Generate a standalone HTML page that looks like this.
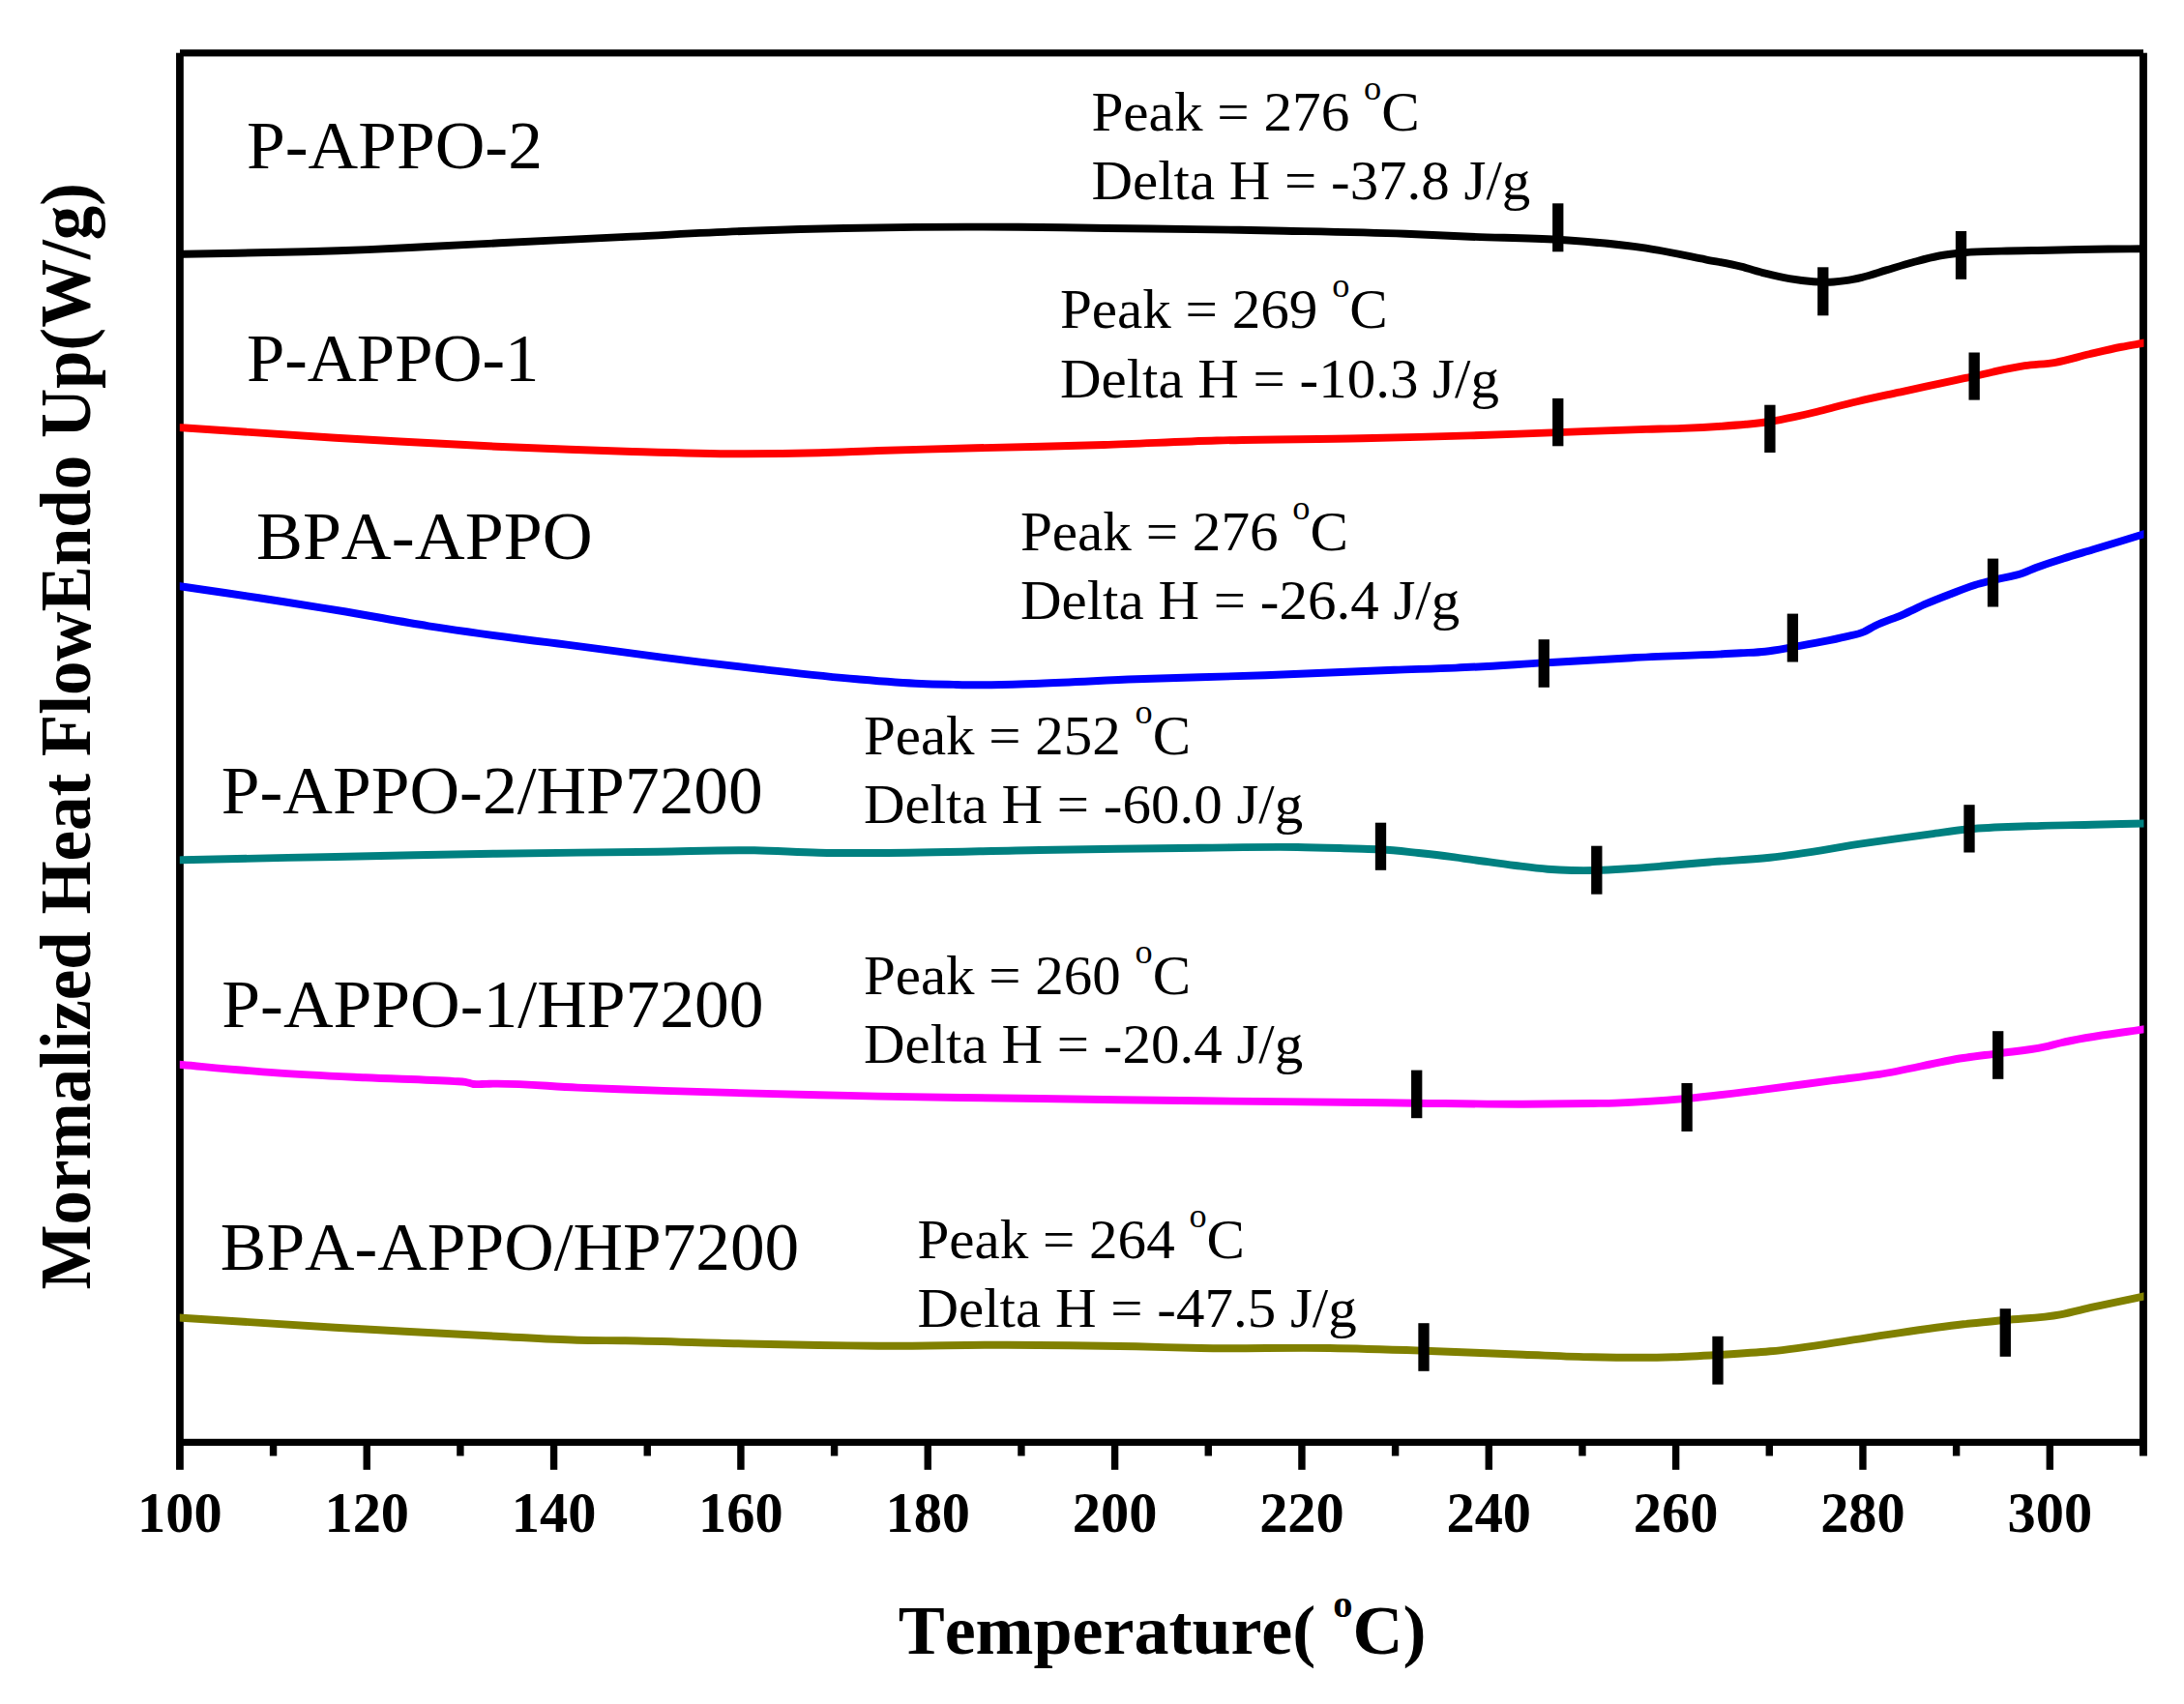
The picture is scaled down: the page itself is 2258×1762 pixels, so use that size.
<!DOCTYPE html>
<html lang="en">
<head>
<meta charset="utf-8">
<title>DSC curves</title>
<style>
html,body{margin:0;padding:0;background:#fff;}
body{width:2258px;height:1762px;overflow:hidden;}
svg{display:block;}
text{font-family:"Liberation Serif","Times New Roman",Times,serif;fill:#000;font-kerning:none;white-space:pre;}
.b{font-weight:bold;}
</style>
</head>
<body>
<svg width="2258" height="1762" viewBox="0 0 2258 1762">
<rect x="0" y="0" width="2258" height="1762" fill="#ffffff"/>

<g fill="#000">
<rect x="186" y="51.2" width="2030" height="7.2"/>
<rect x="182.05" y="54.7" width="7.75" height="1465.1"/>
<rect x="2212" y="54.7" width="7.9" height="1450.8"/>
<rect x="186" y="1487.8" width="2030" height="7.2"/>
<rect x="278.87" y="1491" width="7.4" height="14.5"/>
<rect x="375.54" y="1491" width="7.4" height="28.8"/>
<rect x="472.21" y="1491" width="7.4" height="14.5"/>
<rect x="568.88" y="1491" width="7.4" height="28.8"/>
<rect x="665.55" y="1491" width="7.4" height="14.5"/>
<rect x="762.22" y="1491" width="7.4" height="28.8"/>
<rect x="858.89" y="1491" width="7.4" height="14.5"/>
<rect x="955.56" y="1491" width="7.4" height="28.8"/>
<rect x="1052.23" y="1491" width="7.4" height="14.5"/>
<rect x="1148.90" y="1491" width="7.4" height="28.8"/>
<rect x="1245.57" y="1491" width="7.4" height="14.5"/>
<rect x="1342.24" y="1491" width="7.4" height="28.8"/>
<rect x="1438.91" y="1491" width="7.4" height="14.5"/>
<rect x="1535.58" y="1491" width="7.4" height="28.8"/>
<rect x="1632.25" y="1491" width="7.4" height="14.5"/>
<rect x="1728.92" y="1491" width="7.4" height="28.8"/>
<rect x="1825.59" y="1491" width="7.4" height="14.5"/>
<rect x="1922.26" y="1491" width="7.4" height="28.8"/>
<rect x="2018.93" y="1491" width="7.4" height="14.5"/>
<rect x="2115.60" y="1491" width="7.4" height="28.8"/>
</g>
<clipPath id="cp"><rect x="185.8" y="58" width="2030.7" height="1430"/></clipPath>
<g fill="none" stroke-width="7.9" stroke-linejoin="round" stroke-linecap="butt" clip-path="url(#cp)">
<path stroke="#000000" d="M178.0,263.10C182.0,263.00 186.0,262.90 190.0,262.80C232.0,261.77 274.0,261.41 316.0,260.20C337.3,259.59 358.7,258.98 380.0,258.10C401.0,257.24 422.0,256.05 443.0,255.00C467.3,253.79 491.7,252.52 516.0,251.30C561.7,249.01 607.3,246.81 653.0,244.60C693.9,242.62 734.8,240.20 775.7,238.70C808.1,237.51 840.4,236.66 872.8,236.00C897.2,235.50 921.6,235.14 946.0,234.90C981.7,234.55 1017.3,234.46 1053.0,234.70C1083.5,234.91 1114.1,235.60 1144.6,236.00C1175.1,236.40 1205.5,236.65 1236.0,237.10C1266.6,237.55 1297.1,238.07 1327.7,238.70C1369.5,239.56 1411.2,240.24 1453.0,241.80C1475.3,242.63 1497.7,243.87 1520.0,244.75C1550.3,245.95 1580.5,245.82 1610.8,247.80C1641.2,249.79 1671.6,252.07 1702.0,256.70C1722.4,259.81 1742.9,264.27 1763.3,268.30C1775.5,270.71 1787.8,272.66 1800.0,275.70C1808.3,277.77 1816.7,280.62 1825.0,282.70C1833.3,284.78 1841.7,286.77 1850.0,288.20C1858.3,289.62 1866.7,290.69 1875.0,291.25C1878.3,291.47 1881.7,291.65 1885.0,291.70C1888.7,291.75 1892.3,291.72 1896.0,291.50C1900.0,291.25 1904.0,290.79 1908.0,290.20C1913.7,289.37 1919.3,288.15 1925.0,286.80C1933.3,284.81 1941.7,281.86 1950.0,279.40C1959.2,276.67 1968.5,273.75 1977.7,271.25C1986.8,268.79 1995.9,266.18 2005.0,264.50C2012.5,263.11 2020.0,262.27 2027.5,261.50C2041.4,260.07 2055.4,260.05 2069.3,259.60C2085.5,259.07 2101.8,259.05 2118.0,258.75C2138.7,258.36 2159.3,257.73 2180.0,257.50C2194.7,257.34 2209.3,257.37 2224.0,257.30"/>
<path stroke="#ff0000" d="M178.0,441.60C181.3,441.83 184.7,442.07 188.0,442.30C240.9,445.99 293.8,449.53 346.7,452.70C402.2,456.03 457.8,459.21 513.3,461.70C557.8,463.69 602.2,465.39 646.7,466.70C685.6,467.84 724.4,469.21 763.3,469.30C791.1,469.36 818.9,469.04 846.7,468.30C867.1,467.75 887.6,466.68 908.0,466.00C941.3,464.88 974.7,464.17 1008.0,463.30C1052.4,462.14 1096.9,461.43 1141.3,460.00C1180.2,458.75 1219.1,456.59 1258.0,455.50C1308.0,454.09 1358.0,454.35 1408.0,453.30C1445.3,452.51 1482.7,451.58 1520.0,450.40C1550.3,449.44 1580.5,448.18 1610.8,447.10C1641.2,446.01 1671.6,444.79 1702.0,443.90C1714.3,443.54 1726.7,443.38 1739.0,442.90C1752.9,442.36 1766.8,441.66 1780.7,440.70C1788.8,440.14 1796.9,439.57 1805.0,438.80C1813.3,438.01 1821.5,437.25 1829.8,436.00C1838.2,434.73 1846.6,432.98 1855.0,431.20C1862.2,429.68 1869.3,428.01 1876.5,426.25C1883.2,424.60 1890.0,422.71 1896.7,421.00C1904.8,418.94 1912.9,416.92 1921.0,415.00C1935.1,411.66 1949.2,408.78 1963.3,405.70C1972.2,403.76 1981.1,401.82 1990.0,399.90C2000.6,397.62 2011.1,395.34 2021.7,393.10C2028.2,391.72 2034.7,390.42 2041.2,389.00C2047.5,387.63 2053.7,386.10 2060.0,384.75C2071.1,382.36 2082.2,379.87 2093.3,378.20C2103.9,376.61 2114.4,376.62 2125.0,374.80C2136.7,372.79 2148.3,368.99 2160.0,366.25C2171.1,363.65 2182.2,360.94 2193.3,358.75C2200.8,357.27 2208.3,356.08 2215.8,354.75C2218.5,354.27 2221.3,353.78 2224.0,353.30"/>
<path stroke="#0000ff" d="M178.0,605.00C181.3,605.50 184.7,606.00 188.0,606.50C202.8,608.71 217.7,610.80 232.5,613.00C253.3,616.09 274.2,619.25 295.0,622.50C315.8,625.75 336.7,629.05 357.5,632.50C386.0,637.22 414.5,642.85 443.0,647.30C448.7,648.19 454.3,649.05 460.0,649.90C496.0,655.31 532.0,659.94 568.0,664.40C574.0,665.14 580.0,665.86 586.0,666.60C619.3,670.73 652.7,675.70 686.0,679.90C719.3,684.10 752.7,688.07 786.0,691.80C819.3,695.53 852.7,699.48 886.0,702.30C908.1,704.17 930.2,706.08 952.3,707.00C963.5,707.47 974.8,707.66 986.0,707.90C993.3,708.06 1000.7,708.24 1008.0,708.30C1030.2,708.47 1052.5,707.41 1074.7,706.70C1108.0,705.63 1141.4,703.57 1174.7,702.30C1219.1,700.61 1263.6,699.90 1308.0,698.30C1352.4,696.70 1396.9,694.29 1441.3,692.70C1462.5,691.94 1483.8,691.51 1505.0,690.60C1535.4,689.30 1565.8,687.14 1596.2,685.40C1626.5,683.67 1656.8,681.75 1687.0,680.20C1724.7,678.28 1762.3,677.57 1800.0,675.30C1808.3,674.80 1816.7,674.60 1825.0,673.70C1834.4,672.68 1843.9,670.81 1853.3,669.20C1863.3,667.49 1873.3,665.71 1883.3,663.70C1891.6,662.02 1900.0,660.32 1908.3,658.30C1914.4,656.82 1920.6,656.16 1926.7,653.50C1930.6,651.82 1934.4,649.14 1938.3,647.20C1947.8,642.45 1957.2,639.92 1966.7,635.80C1975.0,632.18 1983.4,627.80 1991.7,624.20C2000.0,620.60 2008.4,617.40 2016.7,614.20C2025.0,611.00 2033.4,607.59 2041.7,605.00C2047.9,603.07 2054.1,601.60 2060.3,600.00C2070.8,597.30 2081.2,596.28 2091.7,592.50C2096.1,590.90 2100.6,588.72 2105.0,587.00C2114.4,583.33 2123.9,580.50 2133.3,577.50C2143.5,574.24 2153.8,571.38 2164.0,568.30C2180.4,563.35 2196.9,558.36 2213.3,553.30C2216.9,552.20 2220.4,551.10 2224.0,550.00"/>
<path stroke="#008080" d="M178.0,889.60C181.3,889.50 184.7,889.40 188.0,889.30C240.9,887.74 293.8,887.07 346.7,886.00C402.2,884.87 457.8,883.58 513.3,882.70C568.9,881.82 624.4,881.44 680.0,880.70C713.3,880.26 746.7,878.77 780.0,879.30C802.2,879.66 824.5,881.26 846.7,881.70C867.1,882.10 887.6,882.03 908.0,882.00C963.6,881.93 1019.1,879.88 1074.7,879.00C1130.2,878.12 1185.8,877.23 1241.3,876.70C1274.6,876.38 1308.0,875.55 1341.3,876.00C1360.9,876.26 1380.4,876.95 1400.0,877.50C1409.2,877.76 1418.3,877.79 1427.5,878.30C1440.6,879.03 1453.6,880.63 1466.7,882.00C1477.8,883.17 1488.9,884.38 1500.0,885.80C1511.1,887.22 1522.2,888.97 1533.3,890.50C1544.4,892.04 1555.6,893.63 1566.7,895.00C1577.8,896.36 1588.9,897.84 1600.0,898.70C1608.3,899.34 1616.7,899.78 1625.0,900.00C1633.6,900.23 1642.2,900.20 1650.8,900.00C1661.6,899.75 1672.5,898.99 1683.3,898.30C1694.4,897.59 1705.6,896.69 1716.7,895.80C1732.5,894.54 1748.2,892.99 1764.0,891.70C1786.0,889.89 1808.0,889.02 1830.0,886.70C1863.3,883.19 1896.7,876.52 1930.0,871.70C1952.2,868.49 1974.5,865.24 1996.7,862.30C2009.8,860.57 2022.9,858.57 2036.0,857.30C2056.2,855.34 2076.5,855.05 2096.7,854.30C2118.9,853.47 2141.1,853.20 2163.3,852.70C2183.5,852.24 2203.8,851.83 2224.0,851.40"/>
<path stroke="#ff00ff" d="M178.0,1100.10C181.3,1100.40 184.7,1100.70 188.0,1101.00C220.7,1103.93 253.3,1107.14 286.0,1109.40C316.5,1111.51 347.1,1112.85 377.6,1114.30C408.4,1115.76 439.2,1116.21 470.0,1118.10C473.7,1118.32 477.3,1118.15 481.0,1118.80C483.8,1119.29 486.5,1120.62 489.3,1121.00C492.2,1121.39 495.1,1121.06 498.0,1121.00C500.6,1120.95 503.2,1120.78 505.8,1120.70C536.3,1119.72 566.9,1123.38 597.4,1124.60C626.9,1125.78 656.5,1126.91 686.0,1127.90C739.6,1129.70 793.1,1130.92 846.7,1132.20C867.1,1132.69 887.6,1133.18 908.0,1133.60C963.6,1134.74 1019.1,1135.22 1074.7,1136.00C1130.2,1136.78 1185.8,1137.63 1241.3,1138.30C1296.9,1138.97 1352.4,1139.34 1408.0,1140.00C1426.9,1140.22 1445.8,1140.49 1464.7,1140.70C1501.4,1141.11 1538.0,1141.78 1574.7,1141.70C1598.7,1141.65 1622.7,1141.37 1646.7,1141.00C1654.5,1140.88 1662.2,1140.82 1670.0,1140.60C1694.7,1139.90 1719.3,1138.10 1744.0,1135.90C1769.3,1133.64 1794.7,1130.26 1820.0,1127.10C1845.0,1123.98 1870.0,1120.37 1895.0,1117.10C1911.0,1115.01 1927.0,1113.34 1943.0,1110.90C1972.0,1106.48 2001.0,1098.35 2030.0,1094.00C2041.9,1092.22 2053.8,1090.90 2065.7,1089.30C2081.6,1087.16 2097.4,1086.23 2113.3,1082.70C2118.9,1081.46 2124.4,1079.83 2130.0,1078.50C2161.3,1071.04 2192.7,1068.30 2224.0,1063.20"/>
<path stroke="#808000" d="M178.0,1362.00C181.3,1362.23 184.7,1362.47 188.0,1362.70C240.9,1366.38 293.8,1369.60 346.7,1372.70C402.2,1375.96 457.8,1378.92 513.3,1381.70C541.1,1383.09 568.9,1384.99 596.7,1385.70C613.4,1386.12 630.0,1386.03 646.7,1386.30C685.6,1386.93 724.4,1388.42 763.3,1389.30C791.1,1389.93 818.9,1390.58 846.7,1391.00C867.1,1391.31 887.6,1391.59 908.0,1391.70C952.4,1391.94 996.9,1390.60 1041.3,1390.70C1085.8,1390.80 1130.2,1391.37 1174.7,1392.30C1196.9,1392.77 1219.1,1393.62 1241.3,1394.00C1285.8,1394.76 1330.2,1393.29 1374.7,1394.00C1407.1,1394.52 1439.6,1395.62 1472.0,1396.70C1506.2,1397.84 1540.5,1399.42 1574.7,1400.70C1598.7,1401.59 1622.7,1402.84 1646.7,1403.30C1674.5,1403.84 1702.2,1404.19 1730.0,1403.30C1745.3,1402.81 1760.7,1401.90 1776.0,1401.00C1794.0,1399.95 1812.0,1398.98 1830.0,1397.30C1863.3,1394.18 1896.7,1387.97 1930.0,1383.30C1963.3,1378.63 1996.7,1373.02 2030.0,1369.30C2044.4,1367.69 2058.9,1366.44 2073.3,1365.00C2092.2,1363.11 2111.1,1362.72 2130.0,1359.30C2141.1,1357.29 2152.2,1354.17 2163.3,1351.70C2183.5,1347.21 2203.8,1343.17 2224.0,1338.90"/>
</g>
<g fill="#000">
<rect x="1605.10" y="210.30" width="11.3" height="50.00"/>
<rect x="1879.15" y="276.30" width="11.3" height="50.00"/>
<rect x="2021.85" y="239.00" width="11.3" height="49.80"/>
<rect x="1605.10" y="411.90" width="11.3" height="49.40"/>
<rect x="1824.25" y="418.70" width="11.3" height="49.30"/>
<rect x="2035.50" y="364.50" width="11.3" height="49.10"/>
<rect x="1590.60" y="661.20" width="11.3" height="49.60"/>
<rect x="1847.75" y="634.60" width="11.3" height="49.90"/>
<rect x="2054.85" y="577.60" width="11.3" height="49.90"/>
<rect x="1421.85" y="850.70" width="11.3" height="49.10"/>
<rect x="1645.15" y="874.70" width="11.3" height="50.00"/>
<rect x="2030.35" y="832.20" width="11.3" height="49.30"/>
<rect x="1459.05" y="1106.60" width="11.3" height="49.60"/>
<rect x="1738.45" y="1120.00" width="11.3" height="50.00"/>
<rect x="2060.05" y="1066.20" width="11.3" height="49.60"/>
<rect x="1466.35" y="1368.20" width="11.3" height="49.60"/>
<rect x="1770.35" y="1381.80" width="11.3" height="49.80"/>
<rect x="2067.65" y="1353.20" width="11.3" height="49.60"/>
</g>
<g class="b" font-size="58.4" text-anchor="middle">
<text x="185.90" y="1584.4">100</text>
<text x="379.24" y="1584.4">120</text>
<text x="572.58" y="1584.4">140</text>
<text x="765.92" y="1584.4">160</text>
<text x="959.26" y="1584.4">180</text>
<text x="1152.60" y="1584.4">200</text>
<text x="1345.94" y="1584.4">220</text>
<text x="1539.28" y="1584.4">240</text>
<text x="1732.62" y="1584.4">260</text>
<text x="1925.96" y="1584.4">280</text>
<text x="2119.30" y="1584.4">300</text>
</g>
<text transform="translate(254.94,173.75) scale(1.0291,1)" font-size="69.5">P-APPO-2</text>
<text transform="translate(254.97,393.75) scale(1.0172,1)" font-size="69.5">P-APPO-1</text>
<text transform="translate(264.93,577.50) scale(1.0347,1)" font-size="69.5">BPA-APPO</text>
<text transform="translate(228.74,840.70) scale(1.0287,1)" font-size="69.5">P-APPO-2/HP7200</text>
<text transform="translate(229.34,1061.60) scale(1.0293,1)" font-size="69.5">P-APPO-1/HP7200</text>
<text transform="translate(227.85,1312.90) scale(1.0263,1)" font-size="69.5">BPA-APPO/HP7200</text>
<text transform="translate(1128.42,134.50) scale(1.0388,1)" font-size="57.0" xml:space="preserve">Peak = 276 <tspan font-size="35" dy="-32">o</tspan><tspan dy="32">C</tspan></text>
<text transform="translate(1128.43,205.75) scale(1.0338,1)" font-size="57.0" xml:space="preserve">Delta H = -37.8 J/g</text>
<text transform="translate(1095.93,338.75) scale(1.0373,1)" font-size="57.0" xml:space="preserve">Peak = 269 <tspan font-size="35" dy="-32">o</tspan><tspan dy="32">C</tspan></text>
<text transform="translate(1095.93,410.75) scale(1.0344,1)" font-size="57.0" xml:space="preserve">Delta H = -10.3 J/g</text>
<text transform="translate(1054.92,568.75) scale(1.0380,1)" font-size="57.0" xml:space="preserve">Peak = 276 <tspan font-size="35" dy="-32">o</tspan><tspan dy="32">C</tspan></text>
<text transform="translate(1054.93,640.00) scale(1.0350,1)" font-size="57.0" xml:space="preserve">Delta H = -26.4 J/g</text>
<text transform="translate(892.93,779.50) scale(1.0349,1)" font-size="57.0" xml:space="preserve">Peak = 252 <tspan font-size="35" dy="-32">o</tspan><tspan dy="32">C</tspan></text>
<text transform="translate(892.93,851.25) scale(1.0350,1)" font-size="57.0" xml:space="preserve">Delta H = -60.0 J/g</text>
<text transform="translate(892.93,1027.50) scale(1.0349,1)" font-size="57.0" xml:space="preserve">Peak = 260 <tspan font-size="35" dy="-32">o</tspan><tspan dy="32">C</tspan></text>
<text transform="translate(892.93,1099.25) scale(1.0350,1)" font-size="57.0" xml:space="preserve">Delta H = -20.4 J/g</text>
<text transform="translate(948.43,1300.50) scale(1.0365,1)" font-size="57.0" xml:space="preserve">Peak = 264 <tspan font-size="35" dy="-32">o</tspan><tspan dy="32">C</tspan></text>
<text transform="translate(948.43,1372.00) scale(1.0350,1)" font-size="57.0" xml:space="preserve">Delta H = -47.5 J/g</text>
<text transform="translate(928.69,1709.50) scale(1.0137,1)" class="b" font-size="71" xml:space="preserve">Temperature( <tspan font-size="40" dy="-38">o</tspan><tspan dy="38">C)</tspan></text>
<text transform="translate(93.1,1333.45) rotate(-90) scale(0.9520,1)" class="b" font-size="74.5" xml:space="preserve">Mormalized Heat FlowEndo Up(W/g)</text>
</svg>
</body>
</html>
